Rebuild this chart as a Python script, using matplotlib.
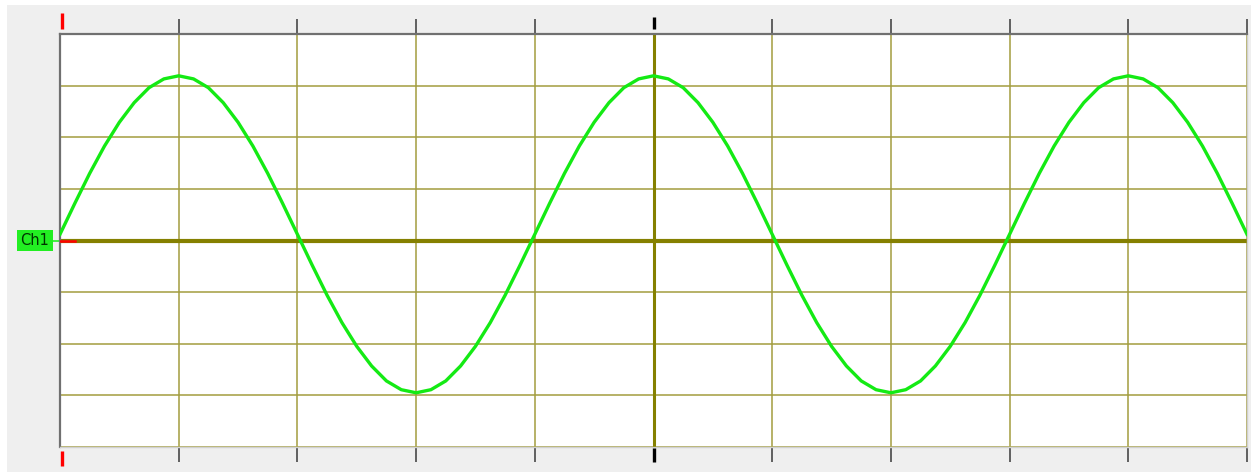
import matplotlib
matplotlib.use('Agg')
import matplotlib.pyplot as plt
from matplotlib.patches import Rectangle
import numpy as np

# time axis in divisions (1/8 division steps), 10 divisions across the screen
t_div = np.arange(81) * 0.125

# Ch1 trace, in vertical divisions, every 1/8 division
one_period = [0.12, 0.72, 1.30, 1.83, 2.29, 2.67, 2.96, 3.13,
              3.19, 3.13, 2.96, 2.67, 2.29, 1.83, 1.30, 0.72,
              0.12, -0.48, -1.06, -1.59, -2.05, -2.43, -2.72, -2.89,
              -2.95, -2.89, -2.72, -2.43, -2.05, -1.59, -1.06, -0.48]
ch1 = one_period + one_period + one_period[:17]

channel_label = 'Ch1'
x_divs = list(range(0, 11))
y_divs = list(range(-4, 5))
trigger_pos = 0      # red marker
center_pos = 5       # black marker

W, H = 1251, 472
fig = plt.figure(figsize=(W / 100, H / 100), dpi=100, facecolor='white')
fig.patches.append(Rectangle((7 / W, 0), 1 - 7 / W, 1 - 5 / H, transform=fig.transFigure,
                             facecolor='#efefef', edgecolor='none', zorder=-10))

ax = fig.add_axes([60 / W, 1 - 447 / H, (1247 - 60) / W, (447 - 34) / H])
ax.set_facecolor('white')
ax.set_xlim(0, 10)
ax.set_ylim(-4, 4)

# graticule
grid_c = '#a39d3e'
for xv in x_divs:
    ax.axvline(xv, color=grid_c, lw=1.1, zorder=1)
for yv in y_divs:
    ax.axhline(yv, color=grid_c, lw=1.1, zorder=1)
ax.axhline(0, color='#858000', lw=3.0, zorder=2)
ax.axvline(center_pos, color='#858000', lw=2.2, zorder=2)

# trace
ax.plot(t_div, ch1, color='#14ea14', lw=2.4, zorder=4)

# channel marker
ax.axhline(0, xmin=0, xmax=0.013, color='red', lw=1.8, zorder=5)
ax.text(-0.009, 0, channel_label, transform=ax.get_yaxis_transform(), ha='right', va='center',
        fontsize=10.5, family='DejaVu Sans', color='#003300', clip_on=False,
        bbox=dict(boxstyle='square,pad=0.22', facecolor='#22ee22', edgecolor='none'))
ax.plot([-0.009, 0], [0, 0], transform=ax.get_yaxis_transform(), color='#22ee22',
        lw=1.2, clip_on=False)

# plain ticks on top and bottom (markers replace the ones at trigger and center)
ax.set_xticks([x for x in x_divs if x not in (trigger_pos, center_pos)])
ax.set_yticks([])
ax.tick_params(axis='x', which='both', top=True, bottom=True, direction='out',
               length=11, width=1.3, color='#555555', labelbottom=False, labeltop=False)

# red trigger marker and black center marker
xt = ax.get_xaxis_transform()
markers = [(trigger_pos + 0.02, 'red', (1.012, 1.051), (-0.010, -0.046)),
           (center_pos, 'black', (1.012, 1.041), (-0.003, -0.036))]
for xs, col, top_span, bot_span in markers:
    ax.plot([xs, xs], top_span, transform=xt, color=col, lw=2.4,
            solid_capstyle='butt', clip_on=False, zorder=6)
    ax.plot([xs, xs], bot_span, transform=xt, color=col, lw=2.4,
            solid_capstyle='butt', clip_on=False, zorder=6)

for side in ('left', 'top'):
    ax.spines[side].set_color('#707070')
    ax.spines[side].set_linewidth(1.6)
for side in ('right', 'bottom'):
    ax.spines[side].set_color('#d0d0d0')
    ax.spines[side].set_linewidth(1.0)

fig.savefig('out.png', dpi=100, facecolor=fig.get_facecolor())
